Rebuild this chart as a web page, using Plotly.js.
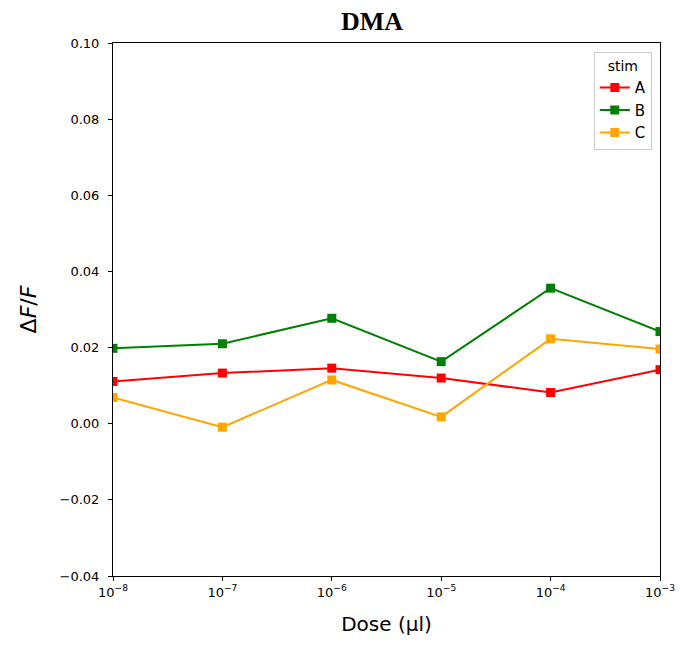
<!DOCTYPE html>
<html>
<head>
<meta charset="utf-8">
<script src="https://cdn.plot.ly/plotly-3.0.1.min.js"></script>
<style>html,body{margin:0;padding:0;background:#fff;}#chart{width:680px;height:646px;}</style>
</head>
<body>
<div id="chart"></div>
<script>
const doses = [1e-8, 1e-7, 1e-6, 1e-5, 1e-4, 1e-3];
const stimA = [0.0111, 0.0133, 0.0146, 0.0120, 0.0082, 0.0142];
const stimB = [0.0198, 0.0210, 0.0277, 0.0163, 0.0356, 0.0242];
const stimC = [0.0069, -0.0009, 0.0115, 0.0018, 0.0223, 0.0196];
const tickVals = [1e-8, 1e-7, 1e-6, 1e-5, 1e-4, 1e-3];
const tickText = ["10<sup>−8</sup>", "10<sup>−7</sup>", "10<sup>−6</sup>", "10<sup>−5</sup>", "10<sup>−4</sup>", "10<sup>−3</sup>"];
const yTicks = [-0.04, -0.02, 0.00, 0.02, 0.04, 0.06, 0.08, 0.10];

function tr(name, y, color) {
  return {x: doses, y: y, name: name, type: 'scatter', mode: 'lines+markers',
    line: {color: color, width: 2}, marker: {symbol: 'square', size: 9, color: color}, cliponaxis: true};
}
const data = [tr('A', stimA, '#ff0000'), tr('B', stimB, '#008000'), tr('C', stimC, '#ffa500')];
const axisCommon = {showline: true, mirror: true, linecolor: '#000', linewidth: 1, ticks: 'outside', ticklen: 4, tickcolor: '#000', showgrid: false, zeroline: false, tickfont: {family: 'DejaVu Sans', size: 13, color: '#000'}};
const layout = {
  width: 680, height: 646,
  margin: {l: 113, r: 20, t: 43, b: 70},
  paper_bgcolor: '#fff', plot_bgcolor: '#fff',
  title: {text: '<b>DMA</b>', font: {family: 'Liberation Serif', size: 26, color: '#000'}, x: 0.547, xanchor: 'center', y: 0.968, yanchor: 'middle'},
  xaxis: Object.assign({}, axisCommon, {type: 'log', range: [-8, -3], tickvals: tickVals, ticktext: tickText,
    title: {text: 'Dose (μl)', font: {family: 'DejaVu Sans', size: 20, color: '#000'}, standoff: 18}}),
  yaxis: Object.assign({}, axisCommon, {range: [-0.04, 0.10], tickvals: yTicks, tickformat: '.2f', ticklabelstandoff: 6,
    title: {text: 'Δ<i>F</i>/<i>F</i>', font: {family: 'DejaVu Sans', size: 22, color: '#000'}, standoff: 16}}),
  legend: {x: 0.985, y: 0.983, xanchor: 'right', yanchor: 'top', bgcolor: '#fff', bordercolor: '#ccc', borderwidth: 1,
    font: {family: 'DejaVu Sans', size: 15, color: '#000'}, title: {text: 'stim', font: {family: 'DejaVu Sans', size: 14, color: '#000'}, side: 'top center'},
    itemwidth: 30, tracegroupgap: 0},
  showlegend: true
};
Plotly.newPlot('chart', data, layout, {displayModeBar: false});
</script>
</body>
</html>
